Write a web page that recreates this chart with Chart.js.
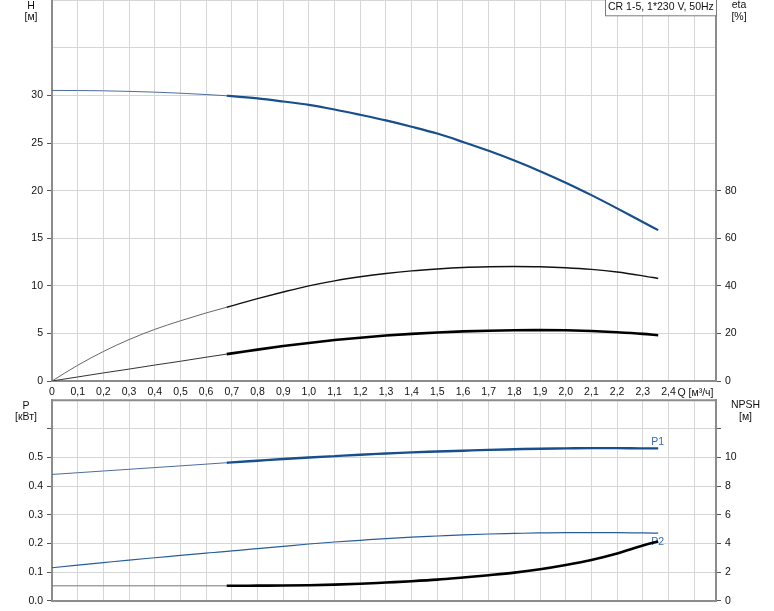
<!DOCTYPE html>
<html><head><meta charset="utf-8">
<script src="https://cdn.jsdelivr.net/npm/chart.js@4.4.1/dist/chart.umd.min.js"></script>
<style>
html,body{margin:0;padding:0;background:#fff;overflow:hidden;}
#stage{position:relative;width:774px;height:611px;overflow:hidden;background:#fff;}
.box{position:absolute;left:0;}
</style></head><body>
<div id="stage">
<div class="box" id="topBox" style="top:-10px"><canvas id="topChart" width="774" height="410" style="width:774px;height:410px"></canvas></div>
<div class="box" id="botBox" style="top:390px"><canvas id="botChart" width="774" height="221" style="width:774px;height:221px"></canvas></div>
</div>
<script>
// ---- data ----
const flowQ    = [0, 0.1, 0.2, 0.3, 0.4, 0.5, 0.6, 0.68, 0.7, 0.8, 0.9, 1.0, 1.1, 1.2, 1.3, 1.4, 1.5, 1.6, 1.7, 1.8, 1.9, 2.0, 2.1, 2.2, 2.3, 2.36];
const headH    = [30.53, 30.52, 30.49, 30.43, 30.35, 30.24, 30.10, 29.97, 29.93, 29.69, 29.37, 29.02, 28.53, 27.97, 27.38, 26.72, 26.00, 25.12, 24.19, 23.17, 22.05, 20.84, 19.53, 18.14, 16.70, 15.85];
const etaUpper = [0, 6.6, 12.4, 17.4, 21.7, 25.3, 28.6, 31.0, 31.6, 34.6, 37.4, 40.0, 42.1, 43.8, 45.2, 46.3, 47.1, 47.7, 48.0, 48.1, 48.0, 47.6, 46.9, 45.8, 44.2, 43.1];
const etaLower = [0, 1.7, 3.4, 5.0, 6.7, 8.3, 10.0, 11.3, 11.6, 13.2, 14.7, 16.0, 17.2, 18.2, 19.1, 19.8, 20.4, 20.85, 21.15, 21.35, 21.4, 21.3, 21.0, 20.5, 19.8, 19.2];
const powerP1  = [0.441, 0.447, 0.453, 0.459, 0.465, 0.471, 0.477, 0.482, 0.483, 0.489, 0.495, 0.500, 0.505, 0.510, 0.514, 0.518, 0.521, 0.524, 0.527, 0.529, 0.531, 0.532, 0.533, 0.533, 0.532, 0.532];
const powerP2  = [0.115, 0.124, 0.133, 0.142, 0.150, 0.158, 0.166, 0.172, 0.174, 0.182, 0.190, 0.198, 0.205, 0.211, 0.217, 0.222, 0.226, 0.230, 0.233, 0.235, 0.237, 0.238, 0.238, 0.238, 0.237, 0.236];
const npshR    = [1.04, 1.04, 1.04, 1.04, 1.04, 1.04, 1.04, 1.04, 1.04, 1.05, 1.06, 1.08, 1.12, 1.18, 1.27, 1.36, 1.47, 1.62, 1.78, 1.96, 2.20, 2.50, 2.85, 3.30, 3.85, 4.14];
const opStart  = 0.68;   // start of the bold (operating) range
const qMax     = 2.585;
const hMax = 40, hLabelMax = 30, etaMax = 160, etaLabelMax = 80;
const pMax = 0.7, pLabelMax = 0.5, npshMax = 14, npshLabelMax = 10;
const pumpTitle = 'CR 1-5, 1*230 V, 50Hz';

// ---- styling ----
const FONT = '"Liberation Sans", Arial, sans-serif';
const FS = 10.5;
const BLUE = '#174e8c';
const GRID = '#d6d6d6';
const AXIS = '#8c8c8c';
const TXT = '#111';

function pts(vals, part) {
  const out = [];
  flowQ.forEach((q, i) => {
    if (part === 'all' || (part === 'thin' && q <= opStart) || (part === 'bold' && q >= opStart)) out.push({x: q, y: vals[i]});
  });
  return out;
}
function ds(vals, part, axis, color, width) {
  return {data: pts(vals, part), yAxisID: axis, borderColor: color, borderWidth: width,
          pointRadius: 0, fill: false, cubicInterpolationMode: 'monotone'};
}
const fontObj = {family: FONT, size: FS};

function xScale(showLabels, xh) {
  return {
    type: 'linear', min: 0, max: qMax,
    afterFit(s) { s.height = xh; },
    border: {display: true, color: AXIS, width: 2},
    grid: {color: GRID, lineWidth: 1, drawTicks: false},
    ticks: {display: showLabels, stepSize: 0.1, includeBounds: false, autoSkip: false, maxRotation: 0, padding: 5,
            color: TXT, font: fontObj,
            callback: v => (v < 2.45 ? (Math.round(v * 10) / 10).toFixed(1).replace('.', ',').replace(/^0,0$/, '0') : '')}
  };
}
function yScale(pos, max, step, labelMax, fmt, onArea, width, tickMarkMax) {
  return {
    position: pos, min: 0, max: max,
    afterFit(s) { s.width = width; },
    border: {display: true, color: AXIS, width: 2},
    grid: {color: GRID, lineWidth: 1, drawOnChartArea: onArea, tickLength: 5,
           tickColor: c => (c.tick && c.tick.value <= tickMarkMax + 1e-9 ? '#555' : 'rgba(0,0,0,0)')},
    ticks: {stepSize: step, padding: 4, color: TXT, font: fontObj, autoSkip: false,
            callback: v => (v <= labelMax + 1e-9 ? fmt(v) : '')}
  };
}

const topDeco = {
  id: 'topDeco',
  afterDraw(chart) {
    const ctx = chart.ctx, a = chart.chartArea, xs = chart.scales.x;
    ctx.save();
    ctx.font = FS + 'px ' + FONT;
    ctx.fillStyle = TXT; ctx.textAlign = 'center'; ctx.textBaseline = 'alphabetic';
    ctx.fillText('H', 31, a.top + 9);
    ctx.fillText('[м]', 31, a.top + 20);
    ctx.fillText('eta', 739, a.top + 8);
    ctx.fillText('[%]', 739, a.top + 20);
    // pump title box
    const bw = 111;
    ctx.fillStyle = '#fff';
    ctx.fillRect(a.right - bw, a.top - 2, bw, 17.5);
    ctx.strokeStyle = '#7a7a7a'; ctx.lineWidth = 1;
    ctx.strokeRect(a.right - bw + 0.5, a.top - 2, bw, 17.5);
    ctx.fillStyle = TXT; ctx.textAlign = 'left';
    ctx.fillText(pumpTitle, a.right - bw + 3, a.top + 10);
    ctx.fillText('Q [м³/ч]', xs.getPixelForValue(2.4) + 9, a.bottom + 15);
    ctx.restore();
  }
};

const botDeco = {
  id: 'botDeco',
  beforeDatasetsDraw(chart) {
    const ctx = chart.ctx, xs = chart.scales.x, ys = chart.scales.y;
    ctx.save();
    ctx.font = FS + 'px ' + FONT;
    ctx.fillStyle = '#2f6db5'; ctx.textAlign = 'left';
    const n = flowQ.length - 1;
    const xl = xs.getPixelForValue(flowQ[n]) - 7;
    ctx.fillText('P1', xl, ys.getPixelForValue(powerP1[n]) - 3);
    ctx.fillText('P2', xl, ys.getPixelForValue(powerP2[n]) + 12);
    ctx.restore();
  },
  afterDraw(chart) {
    const ctx = chart.ctx, a = chart.chartArea;
    ctx.save();
    ctx.strokeStyle = AXIS; ctx.lineWidth = 2;
    ctx.beginPath(); ctx.moveTo(a.left - 1, a.top); ctx.lineTo(a.right + 1, a.top); ctx.stroke();
    ctx.font = FS + 'px ' + FONT;
    ctx.fillStyle = TXT; ctx.textAlign = 'center';
    ctx.fillText('P', 26, a.top + 9);
    ctx.fillText('[кВт]', 26, a.top + 20);
    ctx.fillText('NPSH', 745.5, a.top + 8);
    ctx.fillText('[м]', 745.5, a.top + 20);
    ctx.restore();
  }
};

const common = {
  responsive: false, animation: false, events: [],
  layout: {padding: {top: 10, left: 0, right: 0, bottom: 0}},
  plugins: {legend: {display: false}, tooltip: {enabled: false}}
};

new Chart(document.getElementById('topChart'), {
  type: 'line',
  data: {datasets: [
    ds(headH, 'bold', 'y', BLUE, 2.2),
    ds(headH, 'thin', 'y', '#4d6c9e', 1),
    ds(etaUpper, 'bold', 'y1', '#111', 1.4),
    ds(etaUpper, 'thin', 'y1', '#666', 1),
    ds(etaLower, 'bold', 'y1', '#000', 2.6),
    ds(etaLower, 'thin', 'y1', '#333', 1)
  ]},
  options: Object.assign({}, common, {
    scales: {
      x: xScale(true, 19),
      y: yScale('left', hMax, 5, hLabelMax, v => String(v), true, 52, hLabelMax),
      y1: yScale('right', etaMax, 20, etaLabelMax, v => String(v), false, 58, etaLabelMax)
    }
  }),
  plugins: [topDeco]
});

new Chart(document.getElementById('botChart'), {
  type: 'line',
  data: {datasets: [
    ds(npshR, 'bold', 'y1', '#000', 2.6),
    ds(npshR, 'thin', 'y1', '#777', 1),
    ds(powerP1, 'bold', 'y', BLUE, 2.4),
    ds(powerP1, 'thin', 'y', '#4d6c9e', 1),
    ds(powerP2, 'all', 'y', '#285d9a', 1.2)
  ]},
  options: Object.assign({}, common, {
    scales: {
      x: xScale(false, 9),
      y: yScale('left', pMax, 0.1, pLabelMax, v => v.toFixed(1), true, 52, 0.65),
      y1: yScale('right', npshMax, 2, npshLabelMax, v => String(v), false, 58, 13)
    }
  }),
  plugins: [botDeco]
});
</script>
</body></html>
